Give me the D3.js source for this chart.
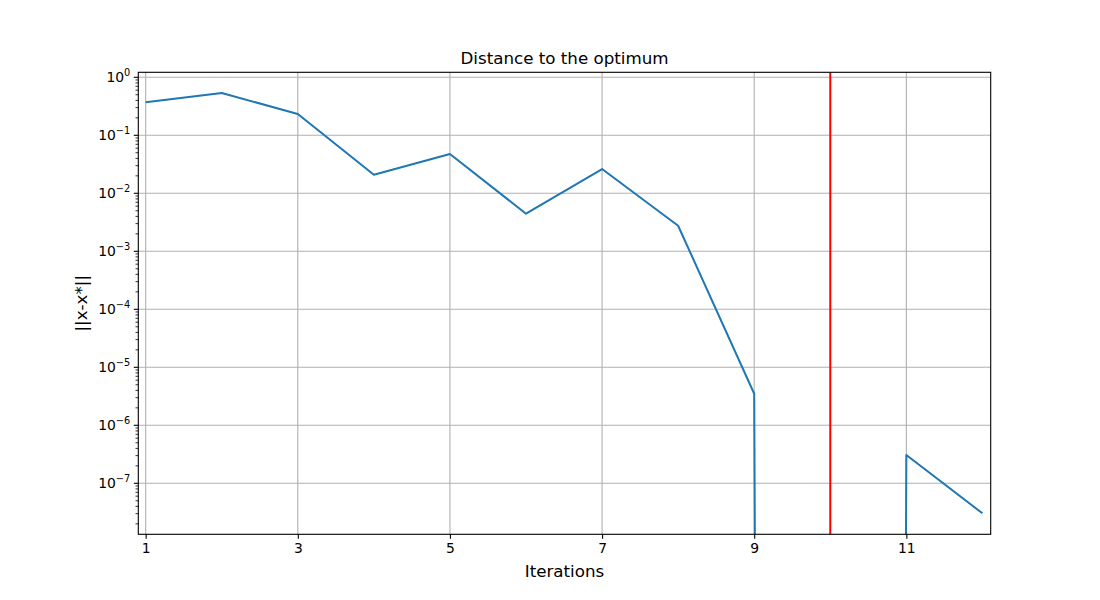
<!DOCTYPE html>
<html>
<head>
<meta charset="utf-8">
<script src="https://cdn.jsdelivr.net/npm/d3@7"></script>
<style>
  body { margin: 0; background: #fff; }
  text { font-family: "DejaVu Sans", sans-serif; fill: #000; }
</style>
</head>
<body>
<div id="chart"></div>
<script>
// values
var iterations = [1, 2, 3, 4, 5, 6, 7, 8, 9, 10, 11, 12];
var distance = [0.37, 0.536, 0.233, 0.0209, 0.0476, 0.00445, 0.0262, 0.00276, 3.5e-6, 0, 3.08e-7, 3.04e-8];
var xTicks = [1, 3, 5, 7, 9, 11];
var yTicks = [1e0, 1e-1, 1e-2, 1e-3, 1e-4, 1e-5, 1e-6, 1e-7];
var yExp = [0, -1, -2, -3, -4, -5, -6, -7];
var markerIter = 10;

var width = 1100, height = 600,
    padL = 138.3, padR = 990.7, padT = 72.3, padB = 534.3;

var svg = d3.select('#chart').append('svg')
    .attr('width', width)
    .attr('height', height);

var x = d3.scaleLinear().domain([0.903, 12.109]).range([padL, padR]);
var y = d3.scaleLog().domain([Math.pow(10, -7.879), Math.pow(10, 0.0862)]).range([padB, padT]);

svg.append('clipPath').attr('id', 'plotclip')
    .append('rect')
    .attr('x', padL).attr('y', padT)
    .attr('width', padR - padL).attr('height', padB - padT);

// grid
var grid = svg.append('g').attr('stroke', '#b0b0b0').attr('stroke-width', 1.1);
grid.selectAll('line.gx').data(xTicks).enter().append('line')
    .attr('x1', function (d) { return x(d); }).attr('x2', function (d) { return x(d); })
    .attr('y1', padT).attr('y2', padB);
grid.selectAll('line.gy').data(yTicks).enter().append('line')
    .attr('y1', function (d) { return y(d); }).attr('y2', function (d) { return y(d); })
    .attr('x1', padL).attr('x2', padR);

// line; zeros pushed far below the axis and clipped, like matplotlib does
var line = d3.line()
    .x(function (d, i) { return x(iterations[i]); })
    .y(function (d) { return d > 0 ? y(d) : y(1e-300); });

var plot = svg.append('g').attr('clip-path', 'url(#plotclip)');
plot.append('path')
    .datum(distance)
    .attr('d', line)
    .attr('fill', 'none')
    .attr('stroke', '#1f77b4')
    .attr('stroke-width', 2)
    .attr('stroke-linejoin', 'round');

plot.append('line')
    .attr('x1', x(markerIter)).attr('x2', x(markerIter))
    .attr('y1', padT).attr('y2', padB)
    .attr('stroke', 'red')
    .attr('stroke-width', 2);

// frame
svg.append('rect')
    .attr('x', padL).attr('y', padT)
    .attr('width', padR - padL).attr('height', padB - padT)
    .attr('fill', 'none').attr('stroke', '#000').attr('stroke-width', 1.1);

// x axis
var xAxis = d3.axisBottom(x).tickValues(xTicks).tickSize(4.5).tickPadding(4.5).tickFormat(d3.format('d'));
var gx = svg.append('g').attr('transform', 'translate(0,' + padB + ')').call(xAxis)
    .attr('font-size', null).attr('font-family', null);
gx.select('.domain').remove();
gx.selectAll('line').attr('stroke-width', 1.1);
gx.selectAll('text').style('font-size', '13.9px');

// y axis: major ticks + minor ticks
var minor = [];
for (var e = -8; e <= 0; e++) {
  for (var m = 2; m <= 9; m++) {
    var v = m * Math.pow(10, e);
    if (v >= y.domain()[0] && v <= y.domain()[1]) minor.push(v);
  }
}
var gy = svg.append('g').attr('transform', 'translate(' + padL + ',0)');
gy.selectAll('line.minor').data(minor).enter().append('line')
    .attr('x1', -2.8).attr('x2', 0)
    .attr('y1', function (d) { return y(d); }).attr('y2', function (d) { return y(d); })
    .attr('stroke', '#000').attr('stroke-width', 0.8);
gy.selectAll('line.major').data(yTicks).enter().append('line')
    .attr('x1', -4.5).attr('x2', 0)
    .attr('y1', function (d) { return y(d); }).attr('y2', function (d) { return y(d); })
    .attr('stroke', '#000').attr('stroke-width', 1.1);

var lab = gy.selectAll('text.ylab').data(yTicks).enter().append('text')
    .attr('x', -8)
    .attr('y', function (d) { return y(d) + 5; })
    .attr('text-anchor', 'end')
    .style('font-size', '13.9px');
lab.append('tspan').text('10');
lab.append('tspan')
    .attr('dy', -6)
    .style('font-size', '9.8px')
    .text(function (d, i) { return yExp[i] === 0 ? '0' : '\u2212' + (-yExp[i]); });

// labels
svg.append('text')
    .attr('x', (padL + padR) / 2).attr('y', 64)
    .attr('text-anchor', 'middle')
    .style('font-size', '16.7px')
    .text('Distance to the optimum');

svg.append('text')
    .attr('x', (padL + padR) / 2).attr('y', 577)
    .attr('text-anchor', 'middle')
    .style('font-size', '16.7px')
    .text('Iterations');

svg.append('text')
    .attr('transform', 'translate(87,' + ((padT + padB) / 2) + ') rotate(-90)')
    .attr('text-anchor', 'middle')
    .style('font-size', '16.7px')
    .text('||x-x*||');
</script>
</body>
</html>
